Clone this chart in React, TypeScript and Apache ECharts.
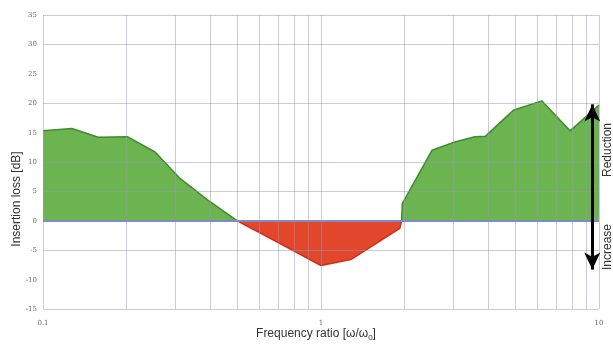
import React, { useEffect, useRef } from "react";
import * as echarts from "echarts";

// Frequency ratio (x) and insertion loss in dB (y)
const leftGain: [number, number][] = [
  [0.1, 15.3], [0.127, 15.7], [0.158, 14.2], [0.201, 14.3], [0.253, 11.7],
  [0.311, 7.2], [0.4, 3.2], [0.5, 0],
];
const lossRegion: [number, number][] = [
  [0.5, 0], [1.0, -7.6], [1.28, -6.6], [1.92, -1.3], [1.95, 0],
];
const rightGain: [number, number][] = [
  [1.95, 0], [1.96, 2.9], [2.12, 5.8], [2.51, 12.0], [3.03, 13.4], [3.58, 14.3],
  [3.91, 14.4], [4.92, 18.8], [6.22, 20.4], [7.87, 15.3], [10, 19.7],
];
const yGridValues = [35, 30, 20, 10, 5, -5, -15];
const xGridValues = [
  0.1, 0.2, 0.3, 0.4, 0.5, 0.6, 0.7, 0.8, 0.9, 1, 2, 3, 4, 5, 6, 7, 8, 9, 10,
];
const xTickLabels: Record<string, string> = { "0.1": "0.1", "1": "1", "10": "10" };
const arrowX = 9.46;
const arrowTop = 19.8;
const arrowBottom = -8.3;

export default function App() {
  const ref = useRef<HTMLDivElement>(null);
  useEffect(() => {
    if (!ref.current) return;
    const chart = echarts.init(ref.current, undefined, { renderer: "svg" });
    const gridColor = "rgba(150,150,195,0.5)";
    const tickFont = { fontSize: 7, fontFamily: "DejaVu Serif", color: "#6a6a6a" };
    chart.setOption({
      animation: false,
      grid: { left: 43, right: 14, top: 15, bottom: 35, containLabel: false },
      xAxis: {
        type: "log",
        logBase: 10,
        min: 0.1,
        max: 10,
        axisLine: { show: false },
        axisTick: { show: false },
        splitLine: { show: false },
        axisLabel: {
          ...tickFont,
          margin: 10,
          formatter: (v: number) => xTickLabels[String(+v.toPrecision(6))] ?? "",
        },
      },
      yAxis: {
        type: "value",
        min: -15,
        max: 35,
        interval: 5,
        axisLine: { show: false },
        axisTick: { show: false },
        splitLine: { show: false },
        axisLabel: { ...tickFont, margin: 6 },
      },
      graphic: [
        {
          type: "text",
          x: 16,
          y: 199,
          rotation: Math.PI / 2,
          style: {
            text: "Insertion loss [dB]",
            font: "12px 'Liberation Sans'",
            fill: "#333",
            textAlign: "center",
            textVerticalAlign: "middle",
          },
        },
        {
          type: "text",
          x: 316,
          y: 333,
          style: {
            text: "{a|Frequency ratio [ω/ω}{s|0}{a|]}",
            fill: "#333",
            textAlign: "center",
            textVerticalAlign: "middle",
            rich: {
              a: { fontSize: 12, fontFamily: "Liberation Sans", lineHeight: 16, fill: "#333" },
              s: { fontSize: 8, fontFamily: "Liberation Sans", lineHeight: 8, verticalAlign: "bottom", fill: "#333" },
            },
          },
        },
        {
          type: "text",
          x: 607,
          y: 150,
          rotation: Math.PI / 2,
          style: {
            text: "Reduction",
            font: "12px 'Liberation Sans'",
            fill: "#333",
            textAlign: "center",
            textVerticalAlign: "middle",
          },
        },
        {
          type: "text",
          x: 607,
          y: 247,
          rotation: Math.PI / 2,
          style: {
            text: "Increase",
            font: "12px 'Liberation Sans'",
            fill: "#333",
            textAlign: "center",
            textVerticalAlign: "middle",
          },
        },
      ],
      series: [
        {
          type: "line",
          data: leftGain,
          symbol: "none",
          z: 2,
          lineStyle: { color: "#3f8c2e", width: 1.5 },
          areaStyle: { color: "#6cb44f", opacity: 1, origin: "auto" },
        },
        {
          type: "line",
          data: rightGain,
          symbol: "none",
          z: 2,
          lineStyle: { color: "#3f8c2e", width: 1.5 },
          areaStyle: { color: "#6cb44f", opacity: 1, origin: "auto" },
        },
        {
          type: "line",
          data: lossRegion,
          symbol: "none",
          z: 2,
          lineStyle: { color: "#d42c1a", width: 1.5 },
          areaStyle: { color: "#e2472c", opacity: 1, origin: "auto" },
          markLine: {
            silent: true,
            symbol: "none",
            label: { show: false },
            z: 3,
            lineStyle: { color: gridColor, width: 1, type: "solid" },
            data: [
              ...yGridValues.map((v) => ({ yAxis: v })),
              ...xGridValues.map((v) => ({ xAxis: v })),
            ],
          },
        },
        {
          type: "line",
          data: [],
          z: 4,
          markLine: {
            silent: true,
            symbol: "none",
            label: { show: false },
            lineStyle: { color: "#7d8cc6", width: 2, type: "solid" },
            data: [{ yAxis: 0 }],
          },
        },
        {
          type: "line",
          data: [],
          z: 5,
          markLine: {
            silent: true,
            symbol: ["arrow", "arrow"],
            symbolSize: [12, 17],
            label: { show: false },
            lineStyle: { color: "#000", width: 3, type: "solid" },
            data: [[{ coord: [arrowX, arrowTop] }, { coord: [arrowX, arrowBottom] }]],
          },
        },
      ],
    });
    return () => chart.dispose();
  }, []);
  return <div ref={ref} style={{ width: 613, height: 344, position: "fixed", left: 0, top: 0 }} />;
}
